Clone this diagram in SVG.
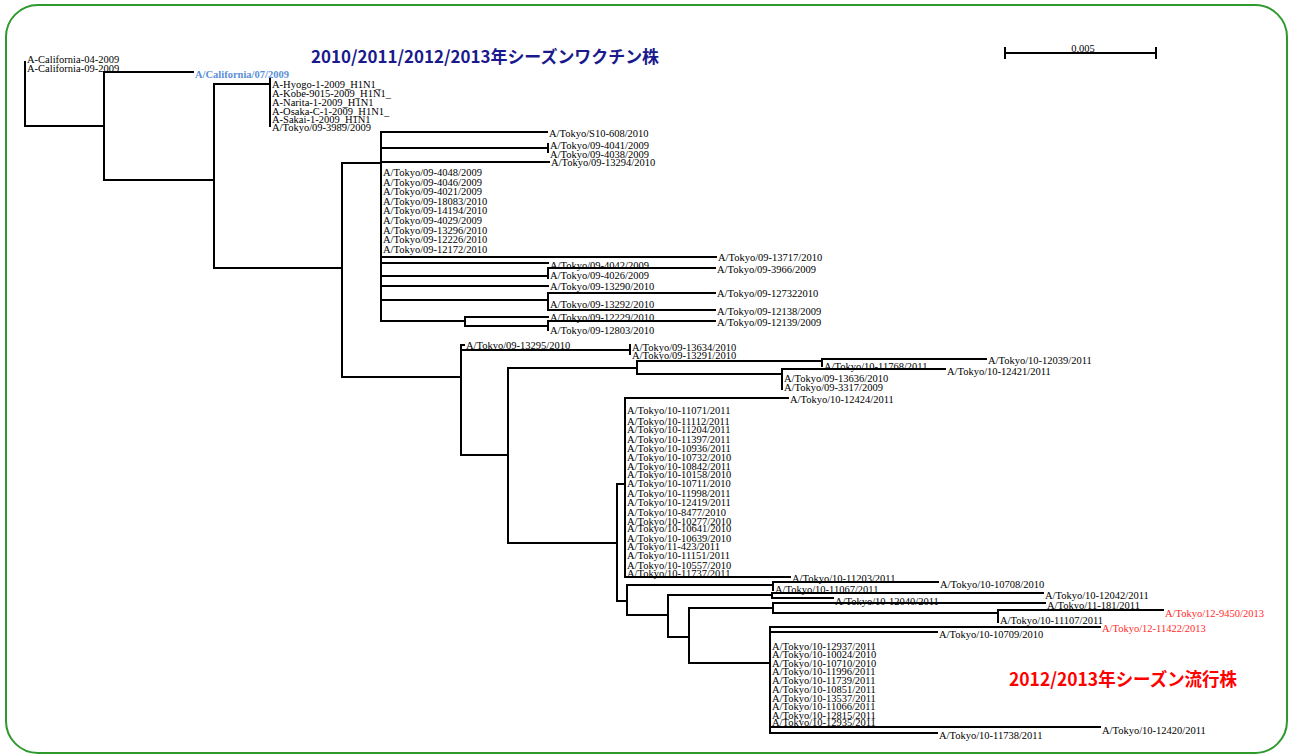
<svg xmlns="http://www.w3.org/2000/svg" width="1290" height="755" viewBox="0 0 1290 755">
<style>
.br{stroke:#000;stroke-width:2;fill:none;stroke-linecap:square}
.t{font-family:"Liberation Serif","Times New Roman",serif;font-size:10.5px;fill:#000}
.red{fill:#ff2a2a}
.blue{fill:#5b8fd6;font-weight:bold}
.ttl{font-family:"Noto Sans CJK JP","Noto Sans",sans-serif;font-weight:bold}
</style>
<rect x="6" y="5" width="1281" height="748" rx="32" ry="32" fill="none" stroke="#2e9a2e" stroke-width="2"/>
<g id="titles">
<text class="ttl" x="311" y="63" font-size="17" fill="#1a1a8c" textLength="348" lengthAdjust="spacingAndGlyphs">2010/2011/2012/2013年シーズンワクチン株</text>
<text class="ttl" x="1009" y="685.5" font-size="18" fill="#ff0000" textLength="228" lengthAdjust="spacingAndGlyphs">2012/2013年シーズン流行株</text>
</g>
<g id="scale">
<path class="br" d="M1005,53 H1156 M1005,48 V58 M1156,48 V58" stroke-linecap="butt"/>
<text class="t" x="1083" y="52" text-anchor="middle">0.005</text>
</g>
<g id="connectors">
<path class="br" d="M25,62 V126 H104 M104,72 V180 M104,72 H193 M104,180 H214 M214,84 V268 M214,84 H270 M270,79 V126 M214,268 H342 M342,163 V377 M342,163 H381 M381,132 V321 M381,132 H547 M381,148 H548 M548,144 V152 M381,162 H549 M381,257 H716 M381,263 H548 M381,276 H548 M548,268 V278 M548,268 H715 M381,286 H548 M381,300 H548 M548,293 V310 M548,293 H715 M548,310 H715 M381,321 H465 M465,317 V326 M465,317 H548 M465,326 H548 M548,321 V330 M548,321 H715"/>
<path class="br" d="M342,377 H461 M461,345 V455 M461,345 H464 M461,350 H630 M630,345 V354 M461,455 H508 M508,368 V543 M508,368 H637 M637,361 V374 M637,361 H822 M822,359 V366 M822,359 H986 M637,374 H782 M782,369 V389 M782,369 H945 M508,543 H617 M617,484 V601 M617,484 H625 M625,398 V577 M625,398 H788 M625,577 H790"/>
<path class="br" d="M617,601 H627 M627,585 V615 M627,585 H773 M773,582 V590 M773,582 H938 M627,615 H668 M668,595 V637 M668,595 H772 M772,593 V598 M772,593 H1043 M772,598 H833 M668,637 H689 M689,608 V663 M689,608 H773 M773,603 V613 M773,603 H1045 M773,613 H998 M998,610 V622 M998,610 H1163 M689,663 H770 M770,627 V733 M770,627 H1100 M770,632 H937 M770,727 H1100 M770,733 H937"/>
</g>
<g id="clade-california" class="t">
<text x="27" y="62.5">A-California-04-2009</text>
<text x="27" y="71.5">A-California-09-2009</text>
</g>
<g id="vaccine-strain"><text class="t blue" x="195" y="77.5">A/California/07/2009</text></g>
<g id="clade-japan2009" class="t">
<text x="272" y="87.5">A-Hyogo-1-2009_H1N1_</text>
<text x="272" y="96.5">A-Kobe-9015-2009_H1N1_</text>
<text x="272" y="105.5">A-Narita-1-2009_H1N1</text>
<text x="272" y="114.5">A-Osaka-C-1-2009_H1N1_</text>
<text x="272" y="122.5">A-Sakai-1-2009_H1N1</text>
<text x="272" y="130.5">A/Tokyo/09-3989/2009</text>
</g>
<g id="clade-tokyo09" class="t">
<text x="549" y="136.5">A/Tokyo/S10-608/2010</text>
<text x="550" y="148.5">A/Tokyo/09-4041/2009</text>
<text x="550" y="157.5">A/Tokyo/09-4038/2009</text>
<text x="551" y="166">A/Tokyo/09-13294/2010</text>
<text x="383" y="175.5">A/Tokyo/09-4048/2009</text>
<text x="383" y="185.5">A/Tokyo/09-4046/2009</text>
<text x="383" y="194.5">A/Tokyo/09-4021/2009</text>
<text x="383" y="204.5">A/Tokyo/09-18083/2010</text>
<text x="383" y="213.5">A/Tokyo/09-14194/2010</text>
<text x="383" y="223.5">A/Tokyo/09-4029/2009</text>
<text x="383" y="233.5">A/Tokyo/09-13296/2010</text>
<text x="383" y="242.5">A/Tokyo/09-12226/2010</text>
<text x="383" y="252.5">A/Tokyo/09-12172/2010</text>
<text x="718" y="260.5">A/Tokyo/09-13717/2010</text>
<text x="550" y="268.5">A/Tokyo/09-4042/2009</text>
<text x="717" y="272.5">A/Tokyo/09-3966/2009</text>
<text x="550" y="278.5">A/Tokyo/09-4026/2009</text>
<text x="550" y="289.5">A/Tokyo/09-13290/2010</text>
<text x="717" y="296.5">A/Tokyo/09-127322010</text>
<text x="550" y="307.5">A/Tokyo/09-13292/2010</text>
<text x="717" y="314.5">A/Tokyo/09-12138/2009</text>
<text x="550" y="320.5">A/Tokyo/09-12229/2010</text>
<text x="717" y="325.5">A/Tokyo/09-12139/2009</text>
<text x="550" y="333.5">A/Tokyo/09-12803/2010</text>
</g>
<g id="clade-tokyo10a" class="t">
<text x="466" y="348.5">A/Tokyo/09-13295/2010</text>
<text x="632" y="350.5">A/Tokyo/09-13634/2010</text>
<text x="632" y="358.5">A/Tokyo/09-13291/2010</text>
<text x="988" y="363.5">A/Tokyo/10-12039/2011</text>
<text x="824" y="370">A/Tokyo/10-11768/2011</text>
<text x="947" y="374.5">A/Tokyo/10-12421/2011</text>
<text x="784" y="381.5">A/Tokyo/09-13636/2010</text>
<text x="784" y="390.5">A/Tokyo/09-3317/2009</text>
<text x="790" y="402.5">A/Tokyo/10-12424/2011</text>
</g>
<g id="clade-tokyo10b" class="t">
<text x="627" y="413.5">A/Tokyo/10-11071/2011</text>
<text x="627" y="424.5">A/Tokyo/10-11112/2011</text>
<text x="627" y="432.5">A/Tokyo/10-11204/2011</text>
<text x="627" y="442.5">A/Tokyo/10-11397/2011</text>
<text x="627" y="451.5">A/Tokyo/10-10936/2011</text>
<text x="627" y="460.5">A/Tokyo/10-10732/2010</text>
<text x="627" y="469.5">A/Tokyo/10-10842/2011</text>
<text x="627" y="477.5">A/Tokyo/10-10158/2010</text>
<text x="627" y="486.5">A/Tokyo/10-10711/2010</text>
<text x="627" y="496.5">A/Tokyo/10-11998/2011</text>
<text x="627" y="505.5">A/Tokyo/10-12419/2011</text>
<text x="627" y="515.5">A/Tokyo/10-8477/2010</text>
<text x="627" y="524.5">A/Tokyo/10-10277/2010</text>
<text x="627" y="531.5">A/Tokyo/10-10641/2010</text>
<text x="627" y="541.5">A/Tokyo/10-10639/2010</text>
<text x="627" y="549.5">A/Tokyo/11-423/2011</text>
<text x="627" y="558.5">A/Tokyo/10-11151/2011</text>
<text x="627" y="568.5">A/Tokyo/10-10557/2010</text>
<text x="627" y="576.5">A/Tokyo/10-11737/2011</text>
<text x="792" y="581.5">A/Tokyo/10-11203/2011</text>
</g>
<g id="clade-tokyo10c" class="t">
<text x="940" y="587.5">A/Tokyo/10-10708/2010</text>
<text x="775" y="592.5">A/Tokyo/10-11067/2011</text>
<text x="1045" y="598.5">A/Tokyo/10-12042/2011</text>
<text x="835" y="604.5">A/Tokyo/10-12040/2011</text>
<text x="1047" y="609">A/Tokyo/11-181/2011</text>
<text class="red" x="1165" y="616.5">A/Tokyo/12-9450/2013</text>
<text x="1000" y="623.5">A/Tokyo/10-11107/2011</text>
<text class="red" x="1102" y="632">A/Tokyo/12-11422/2013</text>
<text x="939" y="637.5">A/Tokyo/10-10709/2010</text>
<text x="772" y="649.5">A/Tokyo/10-12937/2011</text>
<text x="772" y="657.5">A/Tokyo/10-10024/2010</text>
<text x="772" y="666.5">A/Tokyo/10-10710/2010</text>
<text x="772" y="674.5">A/Tokyo/10-11996/2011</text>
<text x="772" y="683.5">A/Tokyo/10-11739/2011</text>
<text x="772" y="692.5">A/Tokyo/10-10851/2011</text>
<text x="772" y="701.5">A/Tokyo/10-13537/2011</text>
<text x="772" y="709.5">A/Tokyo/10-11066/2011</text>
<text x="772" y="718.5">A/Tokyo/10-12815/2011</text>
<text x="772" y="725.5">A/Tokyo/10-12935/2011</text>
<text x="1102" y="733.5">A/Tokyo/10-12420/2011</text>
<text x="939" y="738.5">A/Tokyo/10-11738/2011</text>
</g>
</svg>
